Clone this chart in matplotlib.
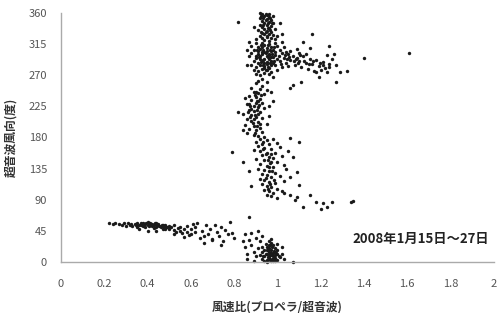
import matplotlib
matplotlib.use("Agg")
import matplotlib.pyplot as plt

plt.rcParams['font.family'] = ['Noto Sans CJK JP', 'DejaVu Sans']

# --- data (x = wind speed ratio, y = ultrasonic wind direction in deg) ---
band_low = [
    (0.22, 56), (0.24, 55), (0.25, 57), (0.27, 55), (0.28, 53), (0.29, 56), (0.30, 52), (0.31, 56),
    (0.32, 54), (0.33, 52), (0.34, 55), (0.35, 57), (0.35, 51), (0.36, 54), (0.37, 56), (0.37, 53),
    (0.38, 57), (0.38, 52), (0.39, 55), (0.39, 50), (0.40, 58), (0.40, 54), (0.41, 53), (0.41, 56),
    (0.42, 52), (0.42, 55), (0.43, 54), (0.43, 49), (0.44, 56), (0.44, 51), (0.45, 53), (0.45, 55),
    (0.46, 52), (0.46, 50), (0.47, 54), (0.47, 48), (0.48, 53), (0.48, 47), (0.49, 51), (0.50, 52),
    (0.50, 48), (0.51, 50), (0.52, 46), (0.52, 53), (0.53, 44), (0.54, 49), (0.55, 45), (0.55, 51),
    (0.56, 42), (0.57, 48), (0.58, 44), (0.58, 52), (0.59, 39), (0.60, 47), (0.61, 55), (0.62, 43),
    (0.62, 50), (0.63, 57), (0.64, 35), (0.65, 45), (0.66, 38), (0.67, 53), (0.68, 41), (0.69, 48),
    (0.70, 32), (0.71, 54), (0.72, 44), (0.73, 37), (0.74, 50), (0.75, 30), (0.76, 46), (0.77, 40),
    (0.78, 58), (0.80, 35), (0.36, 47), (0.40, 45), (0.44, 45), (0.52, 40), (0.57, 36), (0.60, 40),
    (0.66, 28), (0.70, 33), (0.74, 25), (0.79, 42),
    (0.375, 54), (0.395, 56), (0.415, 55), (0.425, 53), (0.445, 54), (0.455, 52), (0.385, 55),
    (0.405, 52), (0.435, 56), (0.465, 53), (0.475, 51), (0.485, 50), (0.345, 53), (0.325, 55),
]

cluster_bottom = [
    (0.93, 5), (0.94, 8), (0.95, 3), (0.95, 12), (0.96, 6), (0.96, 15), (0.97, 2), (0.97, 10),
    (0.97, 18), (0.98, 4), (0.98, 8), (0.98, 13), (0.99, 6), (0.99, 20), (1.00, 3), (1.00, 11),
    (1.01, 7), (0.94, 18), (0.95, 22), (0.96, 25), (0.97, 28), (0.98, 24), (0.99, 15), (1.00, 17),
    (0.92, 10), (0.93, 14), (0.96, 9), (0.97, 13), (0.98, 1), (0.99, 10), (0.95, 17), (0.96, 20),
    (0.94, 2), (1.02, 12), (1.02, 22), (1.03, 5), (0.91, 20), (0.90, 8), (0.89, 15), (0.88, 25),
    (0.87, 32), (0.86, 12), (0.85, 40), (0.85, 22), (0.88, 42), (0.90, 35), (0.92, 30), (0.93, 38),
    (0.91, 45), (0.86, 5), (0.84, 30), (0.87, 65), (1.07, 0), (0.97, 33), (1.00, 26), (0.95, 0),
    (0.99, 1), (0.96, 30), (0.93, 22), (0.89, 2),
    (0.955, 7), (0.965, 11), (0.975, 5), (0.985, 16), (0.965, 3), (0.945, 12), (0.975, 21),
    (0.955, 18), (0.985, 9), (0.995, 13), (0.965, 24), (0.945, 26), (1.005, 8), (0.935, 9),
]

band_mid = [
    (0.90, 258), (0.93, 255), (0.88, 252), (0.92, 250), (0.95, 248), (0.89, 246), (0.91, 244), (0.94, 242),
    (0.87, 240), (0.90, 238), (0.92, 236), (0.85, 237), (0.88, 234), (0.91, 232), (0.93, 230), (0.86, 228),
    (0.89, 226), (0.91, 224), (0.94, 222), (0.87, 220), (0.89, 218), (0.92, 216), (0.84, 214), (0.88, 212),
    (0.90, 210), (0.93, 208), (0.86, 206), (0.88, 204), (0.91, 202), (0.95, 200), (0.85, 198), (0.89, 196),
    (0.92, 194), (0.87, 192), (0.90, 190), (0.93, 188), (0.86, 186), (0.89, 184), (0.91, 182), (0.94, 180),
    (0.97, 246), (0.96, 225), (0.82, 217), (0.90, 229), (0.88, 221), (0.91, 214), (0.89, 207), (0.92, 199),
    (0.96, 211), (0.98, 232), (0.84, 190), (0.90, 245), (0.87, 228),
    (0.895, 241), (0.905, 233), (0.875, 225), (0.905, 219), (0.895, 213), (0.875, 209), (0.905, 197),
    (0.885, 201), (0.915, 227), (0.925, 241), (0.865, 217), (0.895, 187),
    (0.92, 178), (0.95, 176), (0.98, 177), (0.90, 173), (0.93, 171), (0.96, 170), (1.00, 172), (0.91, 167),
    (0.94, 165), (0.97, 163), (1.01, 166), (0.89, 162), (0.92, 160), (0.95, 158), (0.99, 157), (0.93, 154),
    (0.96, 152), (0.98, 150), (1.02, 153), (0.90, 149), (0.94, 147), (0.97, 145), (1.00, 144), (0.92, 141),
    (0.95, 139), (0.98, 137), (1.03, 140), (0.91, 135), (0.94, 133), (0.96, 131), (0.99, 129), (0.93, 127),
    (0.95, 125), (0.97, 123), (1.01, 124), (0.92, 120), (0.94, 118), (0.96, 116), (0.99, 114), (1.03, 117),
    (0.93, 112), (0.95, 110), (0.97, 108), (1.00, 106), (0.94, 104), (0.96, 102), (0.98, 100), (1.02, 103),
    (0.95, 97), (0.97, 95), (1.00, 93), (0.79, 159), (0.84, 144), (0.87, 131), (0.88, 110), (1.06, 179),
    (1.10, 173), (1.07, 152), (1.09, 130), (1.06, 123), (1.10, 111), (1.06, 97), (1.09, 94), (1.12, 80),
    (1.15, 97), (1.18, 87), (1.21, 85), (1.20, 77), (1.23, 80), (1.25, 87), (1.34, 87), (1.35, 88),
    (1.04, 135), (1.05, 160), (1.03, 100), (1.08, 90), (0.96, 137), (0.97, 156),
    (0.935, 163), (0.955, 148), (0.945, 156), (0.975, 132), (0.945, 122), (0.965, 113), (0.985, 119),
    (0.955, 105), (0.935, 174), (0.965, 143),
]

cluster_top = [
    (0.93, 358), (0.95, 357), (0.94, 355), (0.96, 354), (0.92, 352), (0.95, 351), (0.97, 350), (0.93, 348),
    (0.94, 346), (0.96, 347), (0.98, 345), (0.92, 343), (0.95, 342), (0.97, 341), (0.93, 339), (0.94, 337),
    (0.96, 338), (0.99, 336), (0.91, 335), (0.95, 334), (0.97, 333), (0.93, 331), (0.94, 329), (0.96, 330),
    (0.98, 328), (0.92, 326), (0.95, 325), (0.97, 324), (1.00, 327), (0.90, 322), (0.94, 321), (0.96, 320),
    (0.99, 322), (1.02, 330), (0.89, 340), (1.01, 345), (0.98, 356), (0.92, 360), (0.96, 359),
    (0.935, 353), (0.945, 349), (0.955, 345), (0.925, 356), (0.965, 352), (0.945, 358), (0.935, 343),
    (0.955, 338), (0.965, 335), (0.925, 332), (0.975, 346), (0.945, 333), (0.95, 327), (0.93, 324),
    (0.87, 318), (0.90, 316), (0.93, 317), (0.96, 315), (0.99, 316), (1.02, 318), (0.88, 312), (0.91, 311),
    (0.94, 313), (0.97, 310), (1.00, 312), (1.03, 311), (0.86, 307), (0.89, 306), (0.92, 308), (0.95, 305),
    (0.98, 307), (1.01, 306), (1.04, 304), (0.88, 302), (0.91, 300), (0.93, 303), (0.96, 301), (0.99, 299),
    (1.02, 302), (1.05, 300), (0.87, 297), (0.90, 295), (0.92, 297), (0.94, 294), (0.97, 296), (1.00, 293),
    (1.03, 295), (1.06, 292), (0.89, 290), (0.91, 288), (0.93, 291), (0.95, 289), (0.98, 287), (1.01, 290),
    (1.04, 288), (0.88, 284), (0.90, 282), (0.92, 285), (0.94, 283), (0.96, 281), (0.99, 284), (1.02, 282),
    (0.89, 278), (0.91, 276), (0.93, 279), (0.95, 277), (0.97, 275), (1.00, 278), (0.90, 272), (0.92, 270),
    (0.94, 273), (0.96, 271), (0.98, 268), (0.93, 265), (0.91, 262), (0.95, 260), (0.94, 304), (0.95, 298),
    (0.96, 293), (0.94, 287), (0.97, 305), (0.93, 310), (0.95, 286), (0.97, 290), (0.96, 299), (0.92, 294),
    (0.98, 296), (0.93, 300), (0.95, 309), (0.94, 280), (0.97, 284), (0.99, 303), (0.91, 305), (0.90, 298),
    (0.915, 296), (0.935, 292), (0.955, 296), (0.975, 300), (0.945, 302), (0.925, 289), (0.965, 287),
    (0.985, 291), (0.945, 278), (0.935, 284), (0.955, 282), (1.005, 298), (1.015, 286), (1.035, 299),
    (1.045, 293), (0.905, 307), (0.925, 314), (0.955, 313), (0.985, 311), (0.965, 306), (0.935, 307),
    (1.055, 296), (1.075, 290), (1.085, 293), (1.095, 287), (1.105, 299), (1.125, 290), (1.145, 286),
    (1.165, 291), (1.195, 288),
    (1.07, 298), (1.09, 295), (1.10, 291), (1.12, 297), (1.13, 288), (1.15, 294), (1.16, 286), (1.18, 292),
    (1.19, 283), (1.21, 289), (1.22, 280), (1.24, 286), (1.25, 293), (1.08, 285), (1.11, 282), (1.14, 279),
    (1.17, 276), (1.20, 278), (1.23, 274), (1.06, 305), (1.09, 308), (1.12, 318), (1.15, 309), (1.16, 329),
    (1.24, 312), (1.26, 300), (1.27, 285), (1.29, 275), (1.32, 276), (1.27, 260), (1.21, 285), (1.18, 275),
    (1.11, 260), (1.07, 256), (1.06, 251), (1.19, 267), (1.23, 299), (1.24, 282), (1.40, 295), (1.61, 302),
    (0.82, 347), (0.86, 285), (1.10, 302), (1.13, 300), (1.05, 283),
]

x_ticks = [0, 0.2, 0.4, 0.6, 0.8, 1, 1.2, 1.4, 1.6, 1.8, 2]
x_tick_labels = ['0', '0.2', '0.4', '0.6', '0.8', '1', '1.2', '1.4', '1.6', '1.8', '2']
y_ticks = [0, 45, 90, 135, 180, 225, 270, 315, 360]

fig = plt.figure(figsize=(4.97, 3.13), dpi=100)
ax = fig.add_axes([0.1227, 0.163, 0.871, 0.796])

for pts in [band_low, cluster_bottom, band_mid, cluster_top]:
    xs = [p[0] for p in pts]
    ys = [p[1] for p in pts]
    ax.scatter(xs, ys, s=6, color='#1a1a1a', linewidths=0, clip_on=False)

ax.set_xlim(0, 2)
ax.set_ylim(0, 360)
ax.set_xticks(x_ticks)
ax.set_xticklabels(x_tick_labels)
ax.set_yticks(y_ticks)
ax.tick_params(axis='both', length=0, labelsize=8, colors='#555555')
ax.tick_params(axis='x', pad=12)
ax.tick_params(axis='y', pad=10)

for side in ['top', 'right']:
    ax.spines[side].set_visible(False)
for side in ['left', 'bottom']:
    ax.spines[side].set_color('#aaaaaa')
    ax.spines[side].set_linewidth(1)

ax.set_ylabel('超音波風向(度)', fontsize=8.5, fontweight='bold', color='#333333')
ax.yaxis.set_label_coords(-0.1, 0.5)
ax.set_xlabel('風速比(プロペラ/超音波)', fontsize=8.5, fontweight='bold', color='#333333')
ax.xaxis.set_label_coords(0.5, -0.153)

ax.text(0.99, 0.092, '2008年1月15日～27日', transform=ax.transAxes, ha='right', va='center',
        fontsize=9.5, fontweight='bold', color='#222222')

fig.savefig('out.png', dpi=100)
